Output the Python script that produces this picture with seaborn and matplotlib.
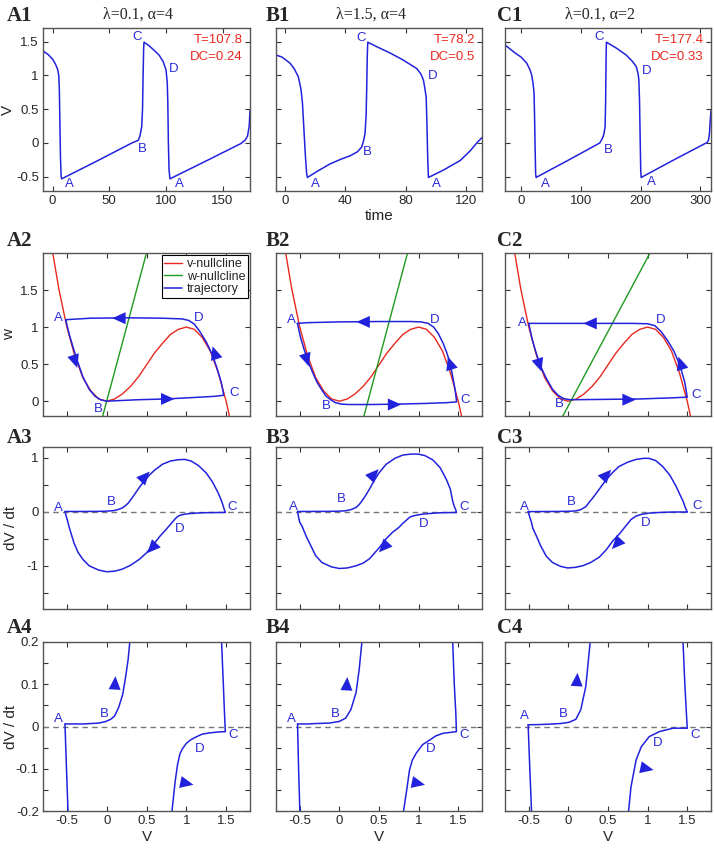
import math
import matplotlib
matplotlib.use("Agg")
import matplotlib.pyplot as plt
from matplotlib.lines import Line2D
import seaborn as sns

# ---------------------------------------------------------
# Values
# ---------------------------------------------------------
titles = ["λ=0.1, α=4", "λ=1.5, α=4", "λ=0.1, α=2"]
period_txt = ["T=107.8", "T=78.2", "T=177.4"]
duty_txt = ["DC=0.24", "DC=0.5", "DC=0.33"]

# row 1: V(t)
a1_t = [-8.4, -4, 0, 2.5, 4.5, 5.5, 6.0, 6.5, 7.0, 7.6, 8.1, 40, 70, 75.7, 77.2, 78.7, 79.4, 79.9,
        80.4, 80.7, 85, 89, 94, 97.7, 100.1, 101.2, 101.7, 102.2, 102.8, 103.6, 135, 160, 166,
        169.8, 172, 173.5, 174.2]
a1_v = [1.36, 1.31, 1.24, 1.17, 1.09, 1.0, 0.8, 0.3, -0.2, -0.5, -0.53, -0.26, 0.0, 0.04, 0.11,
        0.24, 0.5, 1.0, 1.4, 1.49, 1.44, 1.38, 1.30, 1.20, 1.08, 0.9, 0.6, 0.0, -0.4, -0.53, -0.27,
        -0.06, -0.01, 0.04, 0.1, 0.25, 0.48]
b1_t = [-6, -2, 3.3, 6, 8.8, 10.5, 11.5, 12.5, 13.5, 14.3, 14.8, 22, 29.8, 37, 43.1, 48, 50.8, 52,
        53, 53.7, 54.1, 54.5, 54.8, 62, 69.6, 78, 87.3, 90, 91.7, 92.7, 93.5, 94, 94.5, 95, 105,
        116, 122.5, 127, 130.5]
b1_v = [1.30, 1.27, 1.18, 1.10, 0.98, 0.8, 0.6, 0.2, -0.2, -0.45, -0.51, -0.41, -0.31, -0.24,
        -0.19, -0.13, -0.06, 0.03, 0.14, 0.4, 0.8, 1.3, 1.49, 1.41, 1.33, 1.23, 1.10, 1.02, 0.93,
        0.8, 0.68, 0.3, -0.2, -0.51, -0.40, -0.26, -0.12, 0.0, 0.08]
c1_t = [-27, -10, 0, 9.4, 15, 17.8, 20, 21.7, 22.5, 23.5, 24.3, 25, 80, 131.7, 135, 137.2, 139,
        140.6, 141.5, 142.2, 142.8, 160, 176, 186, 192.8, 196, 197.2, 198.3, 199.3, 200.3, 201,
        260, 312, 314, 315.5, 316.5, 318]
c1_v = [1.45, 1.33, 1.27, 1.18, 1.08, 1.0, 0.88, 0.73, 0.4, -0.1, -0.45, -0.51, -0.25, 0.0, 0.05,
        0.09, 0.15, 0.24, 0.6, 1.2, 1.49, 1.40, 1.30, 1.21, 1.13, 1.02, 0.93, 0.63, 0.1, -0.4,
        -0.51, -0.23, 0.01, 0.05, 0.15, 0.3, 0.48]
row1_labels = [
    [("A", 15, -0.60), ("A", 111.8, -0.60), ("B", 79.4, -0.09), ("C", 74.9, 1.56), ("D", 107, 1.09)],
    [("A", 19.9, -0.60), ("A", 100.4, -0.60), ("B", 54.5, -0.14), ("C", 50.3, 1.55), ("D", 97.8, 0.99)],
    [("A", 40, -0.60), ("A", 217.8, -0.58), ("B", 145.5, -0.11), ("C", 130.5, 1.56), ("D", 209.5, 1.07)],
]

# row 2: phase plane (V, w)
vnull_v = [-0.69, -0.6, -0.5, -0.4, -0.3, -0.2, -0.1, 0.0, 0.1, 0.2, 0.3, 0.4, 0.5, 0.6, 0.7,
           0.8, 0.9, 1.0, 1.1, 1.2, 1.3, 1.4, 1.5, 1.56]
vnull_w = [2.08, 1.51, 1.0, 0.61, 0.32, 0.14, 0.03, 0.0, 0.03, 0.10, 0.20, 0.33, 0.49, 0.65, 0.78,
           0.90, 0.97, 1.0, 0.97, 0.86, 0.68, 0.39, 0.0, -0.29]
wnull_v = [[-0.05, 0.5], [0.31, 0.86], [-0.07, 1.03]]
wnull_w = [[-0.2, 2.0], [-0.2, 2.0], [-0.2, 2.0]]

a2_v = [-0.515, -0.47, -0.42, -0.37, -0.30, -0.22, -0.15, -0.08, 0.0, 0.1, 0.4, 0.75, 1.1, 1.35,
        1.47, 1.44, 1.39, 1.33, 1.25, 1.17, 1.10, 1.03, 0.95, 0.7, 0.3, -0.2, -0.515]
a2_w = [1.10, 0.90, 0.72, 0.55, 0.33, 0.16, 0.07, 0.02, 0.0, 0.005, 0.02, 0.03, 0.05, 0.065, 0.08,
        0.25, 0.43, 0.62, 0.80, 0.94, 1.04, 1.09, 1.11, 1.12, 1.125, 1.12, 1.10]
b2_v = [-0.53, -0.49, -0.44, -0.385, -0.33, -0.28, -0.22, -0.17, -0.11, -0.05, 0.03, 0.12, 0.4,
        0.72, 1.1, 1.35, 1.48, 1.46, 1.43, 1.40, 1.36, 1.31, 1.25, 1.19, 1.12, 1.03, 0.9, 0.5, 0.0,
        -0.4, -0.53]
b2_w = [1.05, 0.86, 0.68, 0.51, 0.37, 0.25, 0.15, 0.07, 0.02, -0.02, -0.04, -0.045, -0.045, -0.04,
        -0.03, -0.02, -0.01, 0.16, 0.33, 0.50, 0.64, 0.78, 0.91, 1.0, 1.05, 1.07, 1.075, 1.075, 1.07,
        1.06, 1.05]
c2_v = [-0.50, -0.46, -0.41, -0.35, -0.28, -0.20, -0.13, -0.06, 0.02, 0.1, 0.5, 0.9, 1.3, 1.50,
        1.47, 1.43, 1.39, 1.33, 1.25, 1.17, 1.09, 1.0, 0.8, 0.3, -0.2, -0.5]
c2_w = [1.05, 0.85, 0.66, 0.47, 0.31, 0.16, 0.08, 0.035, 0.02, 0.02, 0.025, 0.03, 0.045, 0.054,
        0.25, 0.40, 0.53, 0.68, 0.82, 0.94, 1.02, 1.045, 1.05, 1.05, 1.05, 1.05]
# arrow tips (V, w) and pointing direction (dV, dw)
row2_arrows = [
    [(-0.37, 0.45, 0.03, -0.1), (0.85, 0.03, 0.1, 0.0), (1.33, 0.74, -0.03, 0.1), (0.07, 1.12, -0.1, 0.0)],
    [(-0.385, 0.47, 0.03, -0.1), (0.78, -0.045, 0.1, 0.0), (1.37, 0.60, -0.03, 0.1), (0.216, 1.07, -0.1, 0.0)],
    [(-0.34, 0.40, 0.03, -0.1), (0.85, 0.02, 0.1, 0.0), (1.39, 0.60, -0.03, 0.1), (0.19, 1.05, -0.1, 0.0)],
]
row2_labels = [
    [("A", -0.61, 1.12), ("B", -0.11, -0.10), ("C", 1.60, 0.11), ("D", 1.155, 1.12)],
    [("A", -0.60, 1.09), ("B", -0.16, -0.07), ("C", 1.59, 0.02), ("D", 1.20, 1.09)],
    [("A", -0.575, 1.05), ("B", -0.12, -0.04), ("C", 1.61, 0.09), ("D", 1.17, 1.09)],
]

# rows 3 and 4: dV/dt against V (same curves, row 4 zoomed near zero)
a_up_v = [-0.524, -0.4, -0.3, -0.2, -0.1, -0.01, 0.05, 0.1, 0.15, 0.2, 0.24, 0.27, 0.29, 0.34, 0.4,
          0.46, 0.53, 0.6, 0.7, 0.8, 0.9, 0.98, 1.06, 1.15, 1.25, 1.33, 1.40, 1.443, 1.465, 1.48, 1.49]
a_up_dv = [0.006, 0.006, 0.006, 0.007, 0.008, 0.012, 0.017, 0.025, 0.045, 0.075, 0.12, 0.16, 0.2,
           0.3, 0.43, 0.55, 0.67, 0.77, 0.88, 0.94, 0.965, 0.97, 0.94, 0.86, 0.72, 0.55, 0.35, 0.2,
           0.1, 0.03, -0.012]
a_lo_v = [1.49, 1.4, 1.3, 1.2, 1.13, 1.06, 1.0, 0.95, 0.92, 0.89, 0.86, 0.82, 0.75, 0.67, 0.58, 0.5,
          0.415, 0.3, 0.2, 0.1, 0.0, -0.1, -0.22, -0.3, -0.36, -0.41, -0.45, -0.47, -0.486, -0.505, -0.524]
a_lo_dv = [-0.012, -0.013, -0.015, -0.018, -0.024, -0.031, -0.04, -0.053, -0.065, -0.09, -0.13, -0.2,
           -0.32, -0.45, -0.62, -0.76, -0.875, -0.99, -1.06, -1.1, -1.11, -1.08, -1.0, -0.88, -0.75,
           -0.58, -0.39, -0.29, -0.2, -0.1, 0.006]
b_up_v = [-0.528, -0.4, -0.3, -0.13, 0.0, 0.08, 0.145, 0.21, 0.25, 0.284, 0.33, 0.38, 0.44, 0.5, 0.59,
          0.7, 0.8, 0.9, 0.99, 1.08, 1.18, 1.27, 1.35, 1.40, 1.43, 1.45, 1.47, 1.477]
b_up_dv = [0.006, 0.006, 0.007, 0.008, 0.012, 0.02, 0.04, 0.08, 0.135, 0.2, 0.3, 0.42, 0.58, 0.72,
           0.88, 0.99, 1.05, 1.068, 1.07, 1.04, 0.96, 0.82, 0.6, 0.42, 0.2, 0.1, 0.03, -0.012]
b_lo_v = [1.477, 1.4, 1.31, 1.22, 1.14, 1.05, 0.97, 0.92, 0.885, 0.85, 0.81, 0.75, 0.67, 0.59, 0.5,
          0.38, 0.3, 0.21, 0.1, 0.0, -0.1, -0.22, -0.3, -0.36, -0.42, -0.47, -0.499, -0.515, -0.528]
b_lo_dv = [-0.012, -0.014, -0.016, -0.022, -0.032, -0.043, -0.063, -0.08, -0.103, -0.15, -0.2, -0.29,
           -0.38, -0.5, -0.67, -0.87, -0.95, -1.0, -1.04, -1.05, -1.02, -0.94, -0.81, -0.63, -0.45,
           -0.27, -0.2, -0.1, 0.006]
c_up_v = [-0.508, -0.3, -0.1, 0.01, 0.094, 0.157, 0.22, 0.275, 0.31, 0.38, 0.475, 0.56, 0.64, 0.75,
          0.855, 0.95, 1.015, 1.1, 1.19, 1.28, 1.36, 1.42, 1.447, 1.47, 1.49, 1.50]
c_up_dv = [0.004, 0.005, 0.007, 0.01, 0.017, 0.04, 0.095, 0.2, 0.26, 0.4, 0.59, 0.73, 0.84, 0.92,
           0.97, 0.99, 0.99, 0.95, 0.84, 0.68, 0.47, 0.28, 0.2, 0.1, 0.03, -0.004]
c_lo_v = [1.50, 1.32, 1.15, 1.02, 0.92, 0.855, 0.79, 0.76, 0.72, 0.65, 0.56, 0.48, 0.39, 0.28, 0.18,
          0.08, -0.01, -0.1, -0.2, -0.28, -0.35, -0.40, -0.45, -0.465, -0.487, -0.508]
c_lo_dv = [-0.004, -0.004, -0.012, -0.024, -0.048, -0.079, -0.143, -0.2, -0.27, -0.4, -0.54, -0.7,
           -0.84, -0.94, -1.0, -1.03, -1.04, -1.01, -0.94, -0.82, -0.63, -0.46, -0.3, -0.2, -0.1, 0.004]
row3_arrows = [
    [(0.54, 0.745, 0.05, 0.08), (0.51, -0.765, -0.05, -0.08)],
    [(0.495, 0.79, 0.05, 0.08), (0.50, -0.75, -0.05, -0.08)],
    [(0.54, 0.78, 0.05, 0.08), (0.55, -0.69, -0.05, -0.08)],
]
row3_labels = [
    [("A", -0.61, 0.07), ("B", 0.056, 0.19), ("C", 1.58, 0.09), ("D", 0.92, -0.32)],
    [("A", -0.58, 0.09), ("B", 0.03, 0.23), ("C", 1.58, 0.09), ("D", 1.06, -0.23)],
    [("A", -0.56, 0.09), ("B", 0.04, 0.19), ("C", 1.62, 0.10), ("D", 0.98, -0.21)],
]
row4_arrows = [
    [(0.11, 0.119, 0.01, 0.03), (1.09, -0.138, 0.1, -0.004)],
    [(0.10, 0.117, 0.01, 0.03), (1.08, -0.138, 0.1, -0.004)],
    [(0.115, 0.127, 0.01, 0.03), (1.075, -0.103, 0.1, -0.004)],
]
row4_labels = [
    [("A", -0.61, 0.018), ("B", -0.03, 0.03), ("C", 1.59, -0.021), ("D", 1.17, -0.054)],
    [("A", -0.60, 0.018), ("B", -0.05, 0.03), ("C", 1.57, -0.021), ("D", 1.15, -0.054)],
    [("A", -0.56, 0.024), ("B", -0.07, 0.03), ("C", 1.595, -0.021), ("D", 1.13, -0.04)],
]

ts_t = [a1_t, b1_t, c1_t]
ts_v = [a1_v, b1_v, c1_v]
ts_xlim = [(-8.4, 174.2), (-6, 130.5), (-27, 318)]
ts_xticks = [[0, 50, 100, 150], [0, 40, 80, 120], [0, 100, 200, 300]]
traj_v = [a2_v, b2_v, c2_v]
traj_w = [a2_w, b2_w, c2_w]
up_v = [a_up_v, b_up_v, c_up_v]
up_dv = [a_up_dv, b_up_dv, c_up_dv]
lo_v = [a_lo_v, b_lo_v, c_lo_v]
lo_dv = [a_lo_dv, b_lo_dv, c_lo_dv]

# ---------------------------------------------------------
# Style
# ---------------------------------------------------------
sns.set_theme(style="ticks")
plt.rcParams['font.family'] = ['Liberation Sans', 'DejaVu Sans']
plt.rcParams['axes.unicode_minus'] = False
SERIF = ['Liberation Serif', 'DejaVu Serif']

BLUE = '#2222dd'
RED = '#e8281e'
GREEN = '#1e9a1e'
TXT_BLUE = '#2a2ad8'

W, H = 714, 851
fig = plt.figure(figsize=(W / 100, H / 100), dpi=100)

col_left = [43, 276, 505]
col_right = [250, 482, 711]
row_top = [28, 253, 447, 642]
row_bot = [191, 416, 609, 811]
panel_x = [7, 266, 497]
panel_base = [21, 246, 443, 633]


def make_ax(r, c):
    ax = fig.add_axes([col_left[c] / W, 1 - row_bot[r] / H,
                       (col_right[c] - col_left[c]) / W, (row_bot[r] - row_top[r]) / H])
    ax.tick_params(direction='in', top=True, right=True, length=3.5, width=0.8,
                   labelsize=9.5, pad=3, color='#333333')
    for s in ax.spines.values():
        s.set_color('#555555')
        s.set_linewidth(1.0)
    fig.text(panel_x[c] / W, 1 - panel_base[r] / H, "ABC"[c] + str(r + 1),
             family=SERIF, fontweight='bold', fontsize=15, va='baseline', ha='left')
    return ax


def curve(ax, x, y, color=BLUE, lw=1.1):
    sns.lineplot(x=x, y=y, ax=ax, sort=False, estimator=None, color=color, linewidth=lw)


def heads(ax, arrows):
    # arrowheads: tip in data units, direction turned into screen direction
    for x, y, dx, dy in arrows:
        p0 = ax.transData.transform((x, y))
        p1 = ax.transData.transform((x + dx, y + dy))
        ux, uy = p1[0] - p0[0], p1[1] - p0[1]
        n = math.hypot(ux, uy)
        ux, uy = ux / n, uy / n
        ax.annotate('', xy=(x, y), xytext=(-ux * 14, -uy * 14), textcoords='offset points',
                    arrowprops=dict(arrowstyle='-|>,head_length=0.6,head_width=0.27',
                                    color=BLUE, lw=0.01, shrinkA=0, shrinkB=0,
                                    mutation_scale=16))


def letters(ax, labels):
    for s, x, y in labels:
        ax.text(x, y, s, color=TXT_BLUE, fontsize=9.5, ha='center', va='center')


def tick_text(ticks, shown):
    return [('%g' % t) if any(abs(t - s) < 1e-9 for s in shown) else '' for t in ticks]


def ylab(ax, text, x=-0.125):
    ax.set_ylabel(text, fontsize=11)
    ax.yaxis.set_label_coords(x, 0.5)


v_ticks = [-0.5, 0, 0.5, 1, 1.5]

for c in range(3):
    # ---- row 1: time series ----
    ax = make_ax(0, c)
    curve(ax, ts_t[c], ts_v[c])
    ax.set_xlim(*ts_xlim[c])
    ax.set_ylim(-0.71, 1.70)
    ax.set_xticks(ts_xticks[c])
    ax.set_xticklabels([str(t) for t in ts_xticks[c]])
    ax.set_yticks(v_ticks)
    if c == 0:
        ax.set_yticklabels(['-0.5', '0', '0.5', '1', '1.5'])
        ylab(ax, "V", -0.135)
    else:
        ax.set_yticklabels([])
    if c == 1:
        ax.set_xlabel("time", fontsize=11, labelpad=1)
    letters(ax, row1_labels[c])
    ax.text(0.965, 0.925, period_txt[c], transform=ax.transAxes, color=RED,
            fontsize=9.5, ha='right', va='center')
    ax.text(0.965, 0.822, duty_txt[c], transform=ax.transAxes, color=RED,
            fontsize=9.5, ha='right', va='center')
    ax.text(0.46, 1.035, titles[c], transform=ax.transAxes, family=SERIF,
            fontsize=11.5, ha='center', va='bottom')

    # ---- row 2: phase plane ----
    ax = make_ax(1, c)
    curve(ax, vnull_v, vnull_w, color=RED, lw=1.0)
    curve(ax, wnull_v[c], wnull_w[c], color=GREEN, lw=1.0)
    curve(ax, traj_v[c], traj_w[c])
    letters(ax, row2_labels[c])
    ax.set_xlim(-0.8, 1.8)
    ax.set_ylim(-0.2, 2.0)
    heads(ax, row2_arrows[c])
    ax.set_xticks(v_ticks)
    ax.set_xticklabels([])
    ax.set_yticks([0, 0.5, 1, 1.5])
    if c == 0:
        ax.set_yticklabels(['0', '0.5', '1', '1.5'])
        ylab(ax, "w", -0.13)
        handles = [Line2D([], [], color=RED, lw=1.0), Line2D([], [], color=GREEN, lw=1.0),
                   Line2D([], [], color=BLUE, lw=1.1)]
        leg = ax.legend(handles, ["v-nullcline", "w-nullcline", "trajectory"],
                        loc='upper right', bbox_to_anchor=(0.99, 0.985), fontsize=9,
                        frameon=True, fancybox=False, edgecolor='black', framealpha=1,
                        borderpad=0.2, labelspacing=0.05, handlelength=1.4,
                        handletextpad=0.4, borderaxespad=0)
        leg.get_frame().set_linewidth(0.8)
    else:
        ax.set_yticklabels([])

    # ---- row 3: dV/dt vs V ----
    ax = make_ax(2, c)
    ax.axhline(0, color='#777777', ls='--', lw=1.0, dashes=(4, 3))
    curve(ax, up_v[c], up_dv[c])
    curve(ax, lo_v[c], lo_dv[c])
    letters(ax, row3_labels[c])
    ax.set_xlim(-0.8, 1.8)
    ax.set_ylim(-1.8, 1.2)
    heads(ax, row3_arrows[c])
    ax.set_xticks(v_ticks)
    ax.set_xticklabels([])
    yt3 = [-1.5, -1, -0.5, 0, 0.5, 1]
    ax.set_yticks(yt3)
    if c == 0:
        ax.set_yticklabels(tick_text(yt3, [-1, 0, 1]))
        ylab(ax, "dV / dt", -0.12)
    else:
        ax.set_yticklabels([])

    # ---- row 4: zoom near dV/dt = 0 ----
    ax = make_ax(3, c)
    ax.axhline(0, color='#777777', ls='--', lw=1.0, dashes=(4, 3))
    curve(ax, up_v[c], up_dv[c])
    curve(ax, lo_v[c], lo_dv[c])
    letters(ax, row4_labels[c])
    ax.set_xlim(-0.8, 1.8)
    ax.set_ylim(-0.2, 0.2)
    heads(ax, row4_arrows[c])
    ax.set_xticks(v_ticks)
    ax.set_xticklabels(['-0.5', '0', '0.5', '1', '1.5'])
    ax.set_xlabel("V", fontsize=11, labelpad=2)
    yt4 = [-0.2, -0.15, -0.1, -0.05, 0, 0.05, 0.1, 0.15, 0.2]
    ax.set_yticks(yt4)
    if c == 0:
        ax.set_yticklabels(tick_text(yt4, [-0.2, -0.1, 0, 0.1, 0.2]))
        ylab(ax, "dV / dt", -0.12)
    else:
        ax.set_yticklabels([])

fig.savefig("out.png", dpi=100)
